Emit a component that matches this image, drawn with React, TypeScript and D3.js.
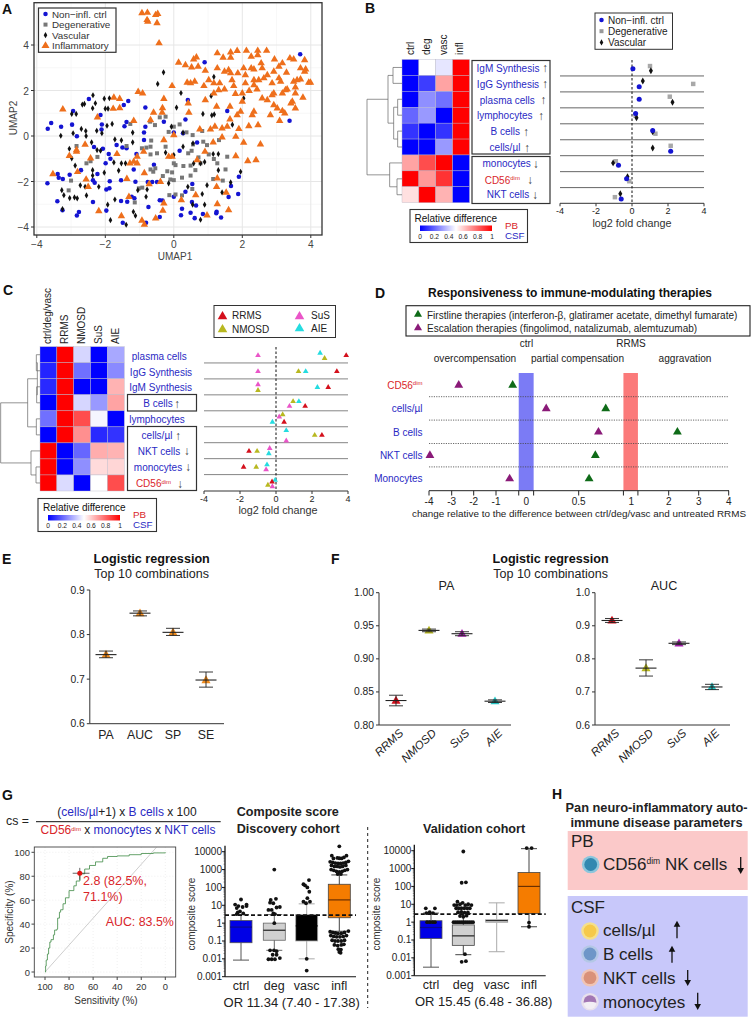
import React from 'react';
import * as d3 from 'd3';

const SANS = '"Liberation Sans", Arial, sans-serif';
const BLUE = '#2a2ac4';
const RED = '#d9252a';

// ---------- Panel A: UMAP ----------
const umapCtrl = [[3.69,3.59],[.9,3.24],[3.38,.67],[.41,1.58],[1.56,1.1],[.34,.73],[.27,.12],[-.29,.63],[-.83,1.25],[-1.33,1.54],[-1.46,1.36],[-2.48,1.63],[-2.94,1.1],[-3.58,.57],[-3.68,.32],[-3.29,.41],[-2.97,.5],[-2.83,-.01],[-2.14,.92],[-2.1,.51],[-2.11,.29],[-1.38,.62],[-1.44,.43],[-.83,.41],[-.87,.15],[-.87,-.18],[0,.15],[.68,-.29],[.17,-.65],[-1.67,-.4],[-1.5,-.51],[-1.38,-.54],[-2.33,-.48],[-2.07,-.56],[-1.9,-.79],[-1.09,-.79],[-1.99,-1.2],[-1.85,-1],[-1.17,-1.47],[-.58,-1.26],[-3.04,-1.7],[-3.39,-1.67],[-3.36,-1.83],[-3.24,-1.89],[-3.69,-2.08],[-2.71,-1.5],[-2.36,-1.94],[-2.31,-2.05],[-2.23,-1.67],[-1.97,-2.35],[-1.88,-2.3],[-1.87,-1.99],[-1.54,-1.95],[-1.12,-2.01],[-.76,-2.02],[-.63,-2.02],[-.49,-2.02],[.54,-2.11],[1.67,-2.2],[1.9,-1.79],[1.88,-2.55],[1.6,-2.68],[.34,-2.45],[0,-2.67],[-.41,-2.82],[-.33,-2.84],[-1.23,-2.67],[-1.15,-2.74],[-1.54,-2.86],[-1.36,-2.89],[-2.36,-2.9],[-3.4,-2.87],[-3.25,-3.26],[-2.77,-3.34],[-2.83,-3.49],[-1.97,-3.28],[-.74,-3.12],[.24,-3.2],[.21,-3.48],[.49,-3.37],[.61,-3.61],[.65,-3.05],[.85,-3.43],[1.25,-3.33],[1.24,-3.4],[1.38,-3.58],[-.41,-3.56],[-.81,-3.81],[-1.49,-3.81],[.53,-2.9]];
const umapDeg = [[-.41,.82],[-.24,.85],[-.15,.18],[0,.41],[.17,.51],[-.69,.63],[-.55,.48],[-1.27,.53],[-1.38,-.44],[-2.84,-.44],[.55,.04],[.37,.16],[.83,.22],[-.66,-.2],[-.93,-.54],[-.8,-.51],[-.68,-.47],[-.24,-.47],[.86,-.25],[.97,-.4],[1.32,-.18],[.56,-.37],[.52,-.65],[.42,-.76],[.72,-.94],[1.02,-.81],[1.17,-1.01],[1.56,-.91],[-.49,-.76],[-.68,-.81],[0,-1.2],[.05,-1.28],[.28,-1.32],[.49,-1.3],[.78,-1.2],[1.27,-1.2],[1.51,-1.47],[1.43,-1.96],[1.15,-1.89],[.63,-1.5],[.49,-1.74],[.24,-1.83],[-.19,-1.55],[-.05,-1.6],[-.32,-1.76],[-.1,-1.91],[0,-1.94],[-.6,-1.57],[-.68,-1.47],[-.54,-1.42],[-1.02,-2.3],[-.92,-2.27],[-3,-1.96],[-3.07,-2.39],[-2.23,-.92],[-2.55,-1.2],[-2.43,-1.11],[.24,-2.61],[.05,-2.57],[-.13,-2.6],[.54,-2.33],[-1.14,-2.92]];
const umapVasc = [[-.3,2.8],[-.47,2.29],[1.17,2.6],[1.09,1.76],[.21,1.89],[2.04,1.66],[-2.36,1.79],[-2.67,1.38],[-2.61,1.41],[-2.29,1.44],[-2.37,1.22],[-2.03,1.64],[-1.88,1.66],[-2,1.2],[-1.92,1.2],[-2.98,.97],[-2.85,.97],[.08,1.25],[.85,.97],[1.11,.91],[1.18,.95],[1.71,.5],[-2.7,.31],[-2.57,.22],[-2.94,.12],[-3.3,.01],[-2.56,0],[-2.25,.23],[-1.95,.45],[-1.8,.53],[-2.1,.12],[-1.2,.15],[-1.72,-.15],[-1.53,-.19],[-1.2,-.28],[-3.05,-.56],[-2.4,-.28],[-2.14,-.65],[-2.24,-.62],[-2.88,-1.3],[-2.98,-.98],[-1.75,-1.16],[-1.53,-1.2],[-1.41,-1.2],[-2.03,-1.61],[-1.61,-1.52],[-2.37,-1.74],[-2.37,-1.5],[-2.73,-2.17],[-2.59,-2.23],[-3.27,-2.38],[-3.21,-2.6],[-3.04,-2.73],[-2.9,-2.7],[-2.82,-2.74],[-2.55,-2.61],[-2.19,-2.23],[-1.93,-3.02],[-1.72,-2.79],[-1.18,-3.33],[-1.12,-3.5],[-1.85,-3.7],[-1.39,-3.9],[-3.25,-3.21],[-.81,-2.67],[-1.05,-2.38],[-.78,-2.35],[-.07,.41],[.27,.15],[.56,-.32],[.27,-.47],[.58,-1.2],[.78,-1.2],[.9,-1.14],[1.15,-.79],[1.3,-.79],[1.3,-1.5],[1.95,-1.57],[1.66,-2.04],[1.41,-2.48],[.97,-2.16],[.83,-2.55],[.9,-3.02],[.55,-3.02],[.78,-3.68],[0,-.84],[-.15,-2.08],[.41,-2.23],[-.24,-.73]];
const umapInfl = [[-.93,5.4],[-.77,5.42],[-.78,5.1],[-.76,5.03],[-.53,5.32],[-.47,5.37],[-.49,4.96],[-.43,4.08],[1.27,3.64],[1.66,3.68],[1.44,3.45],[1.66,3.45],[1.85,3.74],[2.12,3.75],[2.45,3.75],[2.71,3.75],[2.26,3.49],[2.45,3.56],[2.94,3.37],[2.55,3.2],[3.17,3.2],[3.39,3.42],[3.5,3.37],[3.82,3.34],[.14,3.23],[.34,3.12],[.52,3.02],[.58,3.37],[.66,3.46],[.71,3.05],[.92,2.87],[1.27,2.98],[1.48,2.83],[1.6,2.9],[1.66,2.76],[1.87,2.76],[2.04,2.98],[2.26,2.98],[2.34,2.93],[2.58,2.98],[2.73,2.68],[2.92,2.83],[3.07,3.05],[3.29,2.79],[3.07,2.54],[3.7,2.98],[3.85,2.93],[3.82,2.83],[3.5,2.39],[3.6,2.46],[3.7,2.49],[3.94,2.35],[3.99,2.35],[.39,2.35],[.49,2.32],[.61,2.39],[-.05,2.2],[-1.04,1.94],[-.91,1.88],[-1.75,1.69],[-1.58,1.63],[-.29,1.63],[-1.77,1.2],[-1.58,1.23],[-3.24,1.17],[-1.17,.67],[-2.23,.82],[-.33,1.23],[-.59,1.03],[-.34,1.03],[-.68,.7],[.44,1.03],[.42,1.44],[.92,1.58],[1.17,1.88],[1.31,2.02],[1.48,2.05],[1.75,2.2],[2.09,2.32],[1.7,2.46],[1.17,2.32],[.88,2.2],[1.34,2.32],[1.8,1.85],[2,1.88],[2,1.51],[1.25,1.29],[1.64,1.29],[1.95,1.07],[1.85,.92],[1.64,.73],[2.34,1.07],[2.29,.92],[2.82,.92],[3.09,.67],[3.24,1],[3.17,1.1],[2.92,1.36],[3.02,1.22],[2.58,1.66],[2.73,1.58],[2.87,1.8],[3.17,1.88],[3.31,2.05],[3.55,2.14],[3.46,1.51],[3.55,1.22],[3.77,1.69],[2.19,.44],[2.46,.48],[1.9,.31],[1.56,.41],[1.41,.34],[1.2,.41],[1.07,.29],[.76,.29],[1.81,-.03],[1.41,-.06],[2.04,-.29],[2.53,-.37],[1.15,-.28],[2.4,-1.06],[2.16,-1.1],[1.81,-.88],[-.29,-.18],[-.15,-.91],[-.05,-.91],[-.88,-.69],[-1.07,-.91],[-1.17,-1.13],[-1.07,-1.2],[-1.28,-1.2],[-1.66,-.79],[-2.43,-.98],[-2.59,-.38],[-3.05,-.87],[-2.84,-.69],[-2.84,-.62],[-2.81,-1.58],[-3.53,-1.67],[-2.56,-1.91],[-2.5,-2.23],[-1.37,-1.88],[-.86,-1.63],[-.39,-2.01],[0,.04],[.68,-1.06],[.91,-.69],[1.27,-1.86],[1.25,-2.23],[1.53,-2.49],[1.27,-2.99],[1.6,-3.26],[.97,-3.49],[.64,-2.6],[.22,-2.82],[-.29,-2.96],[-.32,-3.28],[-.53,-3.62],[-.93,-3.72],[-.86,-3.9],[-1.53,-3.52],[-2.19,-3.3],[-1.31,-2.67],[-.72,-2.11],[2.09,2.68],[2.34,2.46],[2.2,1.99],[2.43,2.05],[2.48,2.46],[2.63,2.54],[2.87,2.32],[3.12,2.39],[3.26,2.02],[3.55,1.88],[2.92,1.88],[3.42,1.44],[2.34,2.24],[1.02,2.46]];
const umapLegend = ['Non−infl. ctrl', 'Degenerative', 'Vascular', 'Inflammatory'];

// ---------- Panel B ----------
const bCols = ['ctrl', 'deg', 'vasc', 'infl'];
const bRows = ['IgM Synthesis', 'IgG Synthesis', 'plasma cells', 'lymphocytes', 'B cells', 'cells/µl', 'monocytes', 'CD56', 'NKT cells'];
const bHeat = [[0,.5,.45,1],[0,.12,.68,1],[0,.28,.22,1],[.2,.3,0,1],[.1,0,.1,1],[0,0,.3,1],[.68,.85,1,0],[1,.7,.9,0],[.56,1,.65,0]];
const bFcCtrl = [.05,.4,.4,.2,1.15,2.15,-.75,-.3,-.6];
const bFcDeg = [1,3.4,2.1,.2,1.3,2.15,-.9,-.15,-.95];
const bFcVasc = [1.05,.6,2.25,.25,1.15,1.15,-1.05,-.25,-.65];
const bDodgeCtrl = [.55,.68,.46,.36,.42,.72,.6,.45,.72];
const bDodgeDeg = [.38,.5,.3,.5,.62,.38,.35,.6,.6];
const bDodgeVasc = [.68,.32,.65,.62,.5,.52,.45,.32,.38];
const bTree: any = [105, [42, [27, 0, 1], [25, [13, 2, 3], [13, 4, 5]]], [37, 6, [15, 7, 8]]];

// ---------- Panel C ----------
const cCols = ['ctrl/deg/vasc', 'RRMS', 'NMOSD', 'SuS', 'AIE'];
const cRows = ['plasma cells', 'IgG Synthesis', 'IgM Synthesis', 'B cells', 'lymphocytes', 'cells/µl', 'NKT cells', 'monocytes', 'CD56'];
const cHeat = [[.02,1,.42,0,.33],[.07,1,.22,0,.27],[.08,1,0,0,.65],[0,1,.42,.3,.68],[.22,1,.85,.48,0],[0,1,.72,.08,.1],[1,0,.2,.66,.65],[1,0,.28,.57,.58],[1,.43,0,.5,.85]];
const cFcRRMS = [3.9,3.38,2.9,1.62,.45,2.55,-1.5,-1.8,-.22];
const cFcNMOSD = [2.7,1.25,-1,.95,.37,2.15,-1.05,-1.1,-.45];
const cFcSuS = [-1,-1,-1,.75,.18,.57,-.35,-.55,-.2];
const cFcAIE = [2.45,1.65,2.3,1.27,-.2,.57,-.4,-.5,-.05];
const cDodgeRRMS = [.5,.5,.5,.68,.68,.5,.5,.5,.42];
const cDodgeNMOSD = [.68,.5,.68,.38,.2,.5,.5,.5,.62];
const cDodgeSuS = [.5,.5,.32,.68,.35,.85,.32,.65,.72];
const cDodgeAIE = [.35,.5,.5,.38,.68,.2,.65,.35,.32];
const cTree: any = [118, [37, [8, [11, 0, 1], [10, 2, 3]], [11, 4, 5]], [27, 6, [12, 7, 8]]];

// ---------- Panel D ----------
const dRows = ['CD56', 'cells/µl', 'B cells', 'NKT cells', 'Monocytes'];
const dFirst = [-.45,.76,2.29,.66,.6];
const dEsc = [-2.68,.19,.69,-3.96,-.55];
const dTicks = [-4,-3,-2,-1,0,.5,1,2,3,4];
const dEdges = [-.25,.07,.93,1.19];

// ---------- Panels E, F ----------
const eCats = ['PA','AUC','SP','SE'];
const eMean = [.755,.848,.805,.698];
const eLow = [.748,.842,.798,.682];
const eHigh = [.763,.853,.814,.716];
const fCats = ['RRMS','NMOSD','SuS','AIE'];
const fPaMean = [.837,.943,.938,.836];
const fPaLow = [.829,.941,.935,.834];
const fPaHigh = [.845,.945,.941,.838];
const fAucMean = [.916,.772,.847,.715];
const fAucLow = [.91,.748,.843,.707];
const fAucHigh = [.922,.797,.851,.723];
const fColors = ['#d4101c','#b8b820','#b022b8','#25c4c4'];

// ---------- Panel G ----------
const rocSens = [100,99.5,99,98,97,96,95,93,92,90,89.5,88,87,85,83,80,76,74,71,67,63,58,52,48,40,30,20,10,0];
const rocSpec = [0,5,10,15,20,25,27,31,35,36,45,50,52,57,62,68,72,76,82,86,89,92,95,96.5,97,98,99,99.5,100];
const boxCats = ['ctrl','deg','vasc','infl'];
const discStats = [
  {lo:.0085,q1:.08,med:.6,q3:1.4,hi:3},
  {lo:.03,q1:.11,med:.4,q3:1,hi:3},
  {lo:.01,q1:.1,med:.7,q3:3,hi:12},
  {lo:.35,q1:2,med:20,q3:150,hi:500},
];
const discOut: number[][][] = [
  [[0,21],[-.18,11],[-.08,9],[.17,11],[-.13,7],[.05,8],[.17,9],[-.03,4.5],[-.1,4],[.07,3.5],[-.13,3.2]],
  [[0,1000],[-.11,20],[.05,23],[-.13,14],[-.03,13],[-.08,5.5],[-.18,5.5],[.07,7.5],[.17,8],[-.03,3.5],[.02,3.2],[0,1],[-.13,.03],[-.01,.03],[.07,.027],[-.05,.017],[.07,.017],[-.18,.0095],[-.08,.0095],[.02,.0095],[.17,.011]],
  [[.07,257],[-.1,150],[.02,100],[-.05,130],[.08,57],[-.1,16],[.1,16],[.02,25],[-.02,13],[0,.01],[0,.0022]],
  [[0,20000],[-.23,6000],[.22,6000],[-.06,4500],[.07,4200],[-.18,4200],[.14,4800],[0,4300],
   [-.28,2700],[-.2,2500],[-.12,2300],[-.04,2200],[.04,2200],[.12,2300],[.2,2500],[.28,2900],[-.24,1700],[-.15,1500],[-.06,1500],[.02,1400],[.1,1500],[.2,1700],
   [-.25,1000],[-.17,900],[-.09,800],[0,750],[.09,800],[.17,900],[.25,1000],[-.05,560],[.05,560],
   [-.28,.33],[-.2,.3],[-.12,.28],[-.04,.26],[.06,.27],[.16,.3],[.28,.36],[-.26,.2],[-.17,.18],[-.08,.17],[.02,.17],[.12,.18],[.22,.2],[-.22,.11],[-.13,.1],[-.04,.1],[.06,.1],[.16,.11],[-.15,.06],[-.05,.055],[.06,.06],[.14,.065],[-.03,.035],[.05,.033],[0,.024],[.04,.022]],
];
const valStats = [
  {lo:.003,q1:.12,med:.5,q3:1.2,hi:3.2},
  {lo:.015,q1:.05,med:.17,q3:.7,hi:3},
  {lo:.022,q1:.95,med:1.2,q3:1.4,hi:12},
  {lo:.55,q1:3,med:100,q3:600,hi:13000},
];
const valOut: number[][][] = [
  [[-.16,5.9],[.12,5.9],[-.04,3.6],[-.14,3.2],[.06,3.2],[-.12,1],[-.04,1],[.05,1],[.12,1]],
  [[0,9000],[-.05,160],[.08,170],[-.18,14],[-.28,9],[-.2,9],[-.1,10],[-.02,12],[.06,9],[.15,10],[.25,9],[-.22,6],[-.14,6],[-.06,6],[.03,6],[.12,6],[.2,6],[-.16,3.6],[-.06,3.8],[.04,3.4],[.14,3.5],[-.1,2.2],[0,2],[.1,2.3],[-.3,1],[-.24,1],[-.18,1],[-.12,1],[-.06,1],[0,1],[.06,1],[.12,1],[.18,1],[.24,1],[.3,1],[.05,.016],[-.05,.006],[.08,.0065]],
  [],
  [[-.07,14000],[.08,14000],[0,.95],[0,.55]],
];
const ORs = ['OR 11.34 (7.40 - 17.38)', 'OR 15.45 (6.48 - 36.88)'];

// ---------- Panel H ----------
const csfCells = ['cells/µl','B cells','NKT cells','monocytes'];

// ---------- helpers ----------
const heatColor = d3.scaleLinear<string>().domain([0,.5,1]).range(['#0000ff','#ffffff','#ff0000']);
const tri = (s: number) => d3.symbol(d3.symbolTriangle, s)()!;
const sq = (s: number) => d3.symbol(d3.symbolSquare, s)()!;
const dia = (s: number) => d3.symbol(d3.symbolDiamond, s)()!;
const circ = (s: number) => d3.symbol(d3.symbolCircle, s)()!;

function T({x,y,s=10.5,c='#222',a='start',w,f=SANS,r,i,children}: any) {
  return <text x={x} y={y} fontSize={s} fill={c} textAnchor={a} fontWeight={w} fontFamily={f} fontStyle={i?'italic':undefined}
    transform={r!==undefined?`rotate(${r} ${x} ${y})`:undefined}>{children}</text>;
}
function Mark({x,y,d,c,stroke}: any) {
  return <path d={d} transform={`translate(${x},${y})`} fill={c} stroke={stroke}/>;
}
function Tree({node, yOf, xOf}: any): any {
  const lay = (n: any): any => {
    if (typeof n === 'number') return {y: yOf(n + .5), h: 0, paths: [] as string[]};
    const a = lay(n[1]), b = lay(n[2]);
    const h = n[0];
    const p = `M${xOf(a.h)},${a.y}H${xOf(h)}V${b.y}H${xOf(b.h)}`;
    return {y: (a.y+b.y)/2, h, paths: [...a.paths, ...b.paths, p]};
  };
  const r = lay(node);
  return <g fill="none" stroke="#666" strokeWidth={0.7}>{r.paths.map((p: string,i: number)=><path key={i} d={p}/>)}</g>;
}
function Heat({data,x0,x1,y0,y1}: any) {
  const nC = data[0].length, nR = data.length;
  const xs = d3.scaleBand<number>().domain(d3.range(nC)).range([x0,x1]);
  const ys = d3.scaleBand<number>().domain(d3.range(nR)).range([y0,y1]);
  return <g stroke="#b8b8c8" strokeWidth={.4}>{data.map((row: number[],r: number)=>row.map((v,c)=>
    <rect key={r+'-'+c} x={xs(c)} y={ys(r)} width={xs.bandwidth()} height={ys.bandwidth()} fill={heatColor(v)}/>))}</g>;
}
function ColorBar({x,y,w,h,id}: any) {
  const s = d3.scaleLinear().domain([0,1]).range([x,x+w]);
  return <g>
    <rect x={x} y={y} width={w} height={h} fill={`url(#${id})`}/>
    {[0,.2,.4,.6,.8,1].map(t=><T key={t} x={s(t)} y={y+h+7.5} s={6.7} a="middle">{t}</T>)}
  </g>;
}
function FcAxis({xs,y,ticks}: any) {
  return <g>
    <line x1={xs.range()[0]} x2={xs.range()[1]} y1={y} y2={y} stroke="#333" strokeWidth={1}/>
    {ticks.map((t: number)=><g key={t}>
      <line x1={xs(t)} x2={xs(t)} y1={y} y2={y+3} stroke="#333"/>
      <T x={xs(t)} y={y+11} s={9} a="middle">{t}</T>
    </g>)}
  </g>;
}
function ErrPanel({cats,mean,low,high,colors,yDom,yTicks,ax,xEnd,cx,yT,yB,fmt,rot,triSize}: any) {
  const y = d3.scaleLinear().domain(yDom).range([yB,yT]);
  const x = d3.scaleOrdinal<string,number>().domain(cats).range(cx);
  return <g>
    <line x1={ax} x2={ax} y1={yT} y2={yB} stroke="#333"/>
    <line x1={ax} x2={xEnd} y1={yB} y2={yB} stroke="#333"/>
    {yTicks.map((t: number)=><g key={t}>
      <line x1={ax-3} x2={ax} y1={y(t)} y2={y(t)} stroke="#333"/>
      <T x={ax-5} y={y(t)+3.5} s={10.3} a="end">{fmt(t)}</T>
    </g>)}
    {cats.map((c: string,i: number)=>{
      const X = x(c)!;
      return <g key={c}>
        {rot
          ? <T x={X+8} y={yB+9} s={11.5} a="end" i r={-43}>{c}</T>
          : <T x={X} y={yB+15} s={12.3} a="middle">{c}</T>}
        <Mark x={X} y={y(mean[i])+.5} d={tri(triSize)} c={colors[i]}/>
        <g stroke="#222" strokeWidth={.9}>
          <line x1={X} x2={X} y1={y(low[i])} y2={y(high[i])}/>
          <line x1={X-7} x2={X+7} y1={y(low[i])} y2={y(low[i])}/>
          <line x1={X-7} x2={X+7} y1={y(high[i])} y2={y(high[i])}/>
          <line x1={X-10.5} x2={X+10.5} y1={y(mean[i])} y2={y(mean[i])} strokeWidth={1.1}/>
        </g>
      </g>;
    })}
  </g>;
}
function BoxPanel({stats,outliers,cx,ax,xEnd,yTop,yBot,fills,meds,whisk,step}: any) {
  const y = d3.scaleLog().domain([.001,10000]).range([yBot,yTop]);
  const ticks = [.001,.01,.1,1,10,100,1000,10000];
  const minor = d3.range(0,7).flatMap(e=>d3.range(2,10).map(m=>m*Math.pow(10,e-3)));
  const bw = 22;
  return <g>
    {stats.map((s: any,i: number)=>{
      const X = cx[i];
      const wc = whisk[i];
      return <g key={i}>
        <line x1={X} x2={X} y1={y(s.lo)} y2={y(s.hi)} stroke={wc} strokeWidth={1}/>
        <line x1={X-8} x2={X+8} y1={y(s.lo)} y2={y(s.lo)} stroke={wc}/>
        <line x1={X-8} x2={X+8} y1={y(s.hi)} y2={y(s.hi)} stroke={wc}/>
        <rect x={X-bw/2} y={y(s.q3)} width={bw} height={y(s.q1)-y(s.q3)} fill={fills[i]} stroke={wc} strokeWidth={.8}/>
        <line x1={X-bw/2} x2={X+bw/2} y1={y(s.med)} y2={y(s.med)} stroke={meds[i]} strokeWidth={1.2}/>
        {outliers[i].map((o: number[],j: number)=><circle key={j} cx={X+o[0]*step} cy={y(o[1])} r={1.9} fill="#111"/>)}
      </g>;
    })}
    <line x1={ax} x2={ax} y1={yTop-6} y2={yBot} stroke="#111" strokeWidth={1.3}/>
    <line x1={ax} x2={xEnd} y1={yBot} y2={yBot} stroke="#111" strokeWidth={1.1}/>
    {minor.map((t,i)=><line key={i} x1={ax-1.5} x2={ax} y1={y(t)} y2={y(t)} stroke="#333" strokeWidth={.5}/>)}
    {ticks.map(t=><g key={t}>
      <line x1={ax-3} x2={ax} y1={y(t)} y2={y(t)} stroke="#111"/>
      <T x={ax-3} y={y(t)+3.5} s={10} a="end">{t}</T>
    </g>)}
    <line x1={ax} x2={xEnd} y1={y(2.8)} y2={y(2.8)} stroke="#111" strokeWidth={1.6} strokeDasharray="4 2.5"/>
    {boxCats.map((c,i)=><T key={c} x={cx[i]} y={yBot+13.5} s={12.5} a="middle">{c}</T>)}
  </g>;
}
const Dim = ({c=RED,s=6}: any) => <tspan fontSize={s} dy={-3.5} fill={c}>dim</tspan>;

function CellIcon({x,y,outer,inner,half}: any) {
  return <g>
    <circle cx={x} cy={y} r={8.8} fill={outer}/>
    <circle cx={x} cy={y} r={6.4} fill={inner}/>
    {half&&<path d={`M${x-6.4},${y+1}A6.4,6.4 0 0 0 ${x+6.4},${y+1}Q${x},${y-1} ${x-6.4},${y+1}Z`} fill="#f2eef4"/>}
  </g>;
}
function Arrow({x,y0,y1,up}: any) {
  const tip = up ? y0 : y1, base = up ? y1 : y0;
  const d = up ? -1 : 1;
  return <g>
    <line x1={x} x2={x} y1={base} y2={tip-d*3} stroke="#111" strokeWidth={1.3}/>
    <path d={`M${x},${tip}L${x-3.3},${tip-d*6}L${x+3.3},${tip-d*6}Z`} fill="#111"/>
  </g>;
}

export default function App() {
  // A
  const ax = d3.scaleLinear().domain([-4,4]).range([36.8,310.8]);
  const ay = d3.scaleLinear().domain([-4,4]).range([227,45]);
  const aXT = [-4,-2,0,2,4], aMinor = [-3,-1,1,3];
  const aYT = [-4,-2,0,2,4];

  // B
  const bx = d3.scaleLinear().domain([-4,4]).range([560,704]);
  const bY0 = 60, bRow = 15.95;
  const bRowY = (i: number) => bY0 + i*bRow;
  const bLabelX = [508,508,507.3,504.7,505.3,505,506.7,506.3,508];
  const bArrowX = [545,545,543.3,541,526,527,535.7,530,535];
  const bLabelY = [71.7,87.7,103.7,119.4,135,151,167,183.7,198.4];
  const bTreeX = (h: number) => 402 - h/3;
  const bTreeY = (r: number) => 59.5 + r*(202.7-59.5)/9;

  // C
  const cx = d3.scaleLinear().domain([-4,4]).range([204,348]);
  const cY0 = 347.5, cRow = 15.95;
  const cRowY = (i: number) => cY0 + i*cRow;
  const cLabelX = [159.3,161,160.7,158,157,157,159,158,157.5];
  const cArrowX = [0,0,0,177,0,178,186.7,188,180];
  const cLabelZ = [244,291,338,386,433,481,528,576,625];
  const cTreeX = (h: number) => 40 - h/3;
  const cTreeY = (r: number) => 346.7 + r*(491-346.7)/9;

  // D
  const dx = d3.scaleLinear().domain(dTicks).range([429,451.7,473.7,496,526.3,578.7,630.7,668.7,698.7,728.7]);
  const dY = d3.scaleBand<number>().domain(d3.range(5)).range([373.5,490.5]);

  // G ROC
  const rx = d3.scaleLinear().domain([100,0]).range([45,165.3]);
  const ry = d3.scaleLinear().domain([0,100]).range([972,852.3]);
  const rocPath = d3.line<number>().x(i=>rx(rocSens[i])).y(i=>ry(rocSpec[i])).curve(d3.curveStepAfter)(d3.range(rocSens.length))!;

  const Symbol2 = (i: number) => [circ(16), sq(16), dia(11), tri(28)][i];
  const symColors = ['#1414d2','#777777','#111111','#ee6f1c'];

  return (
    <svg width={753} height={1019} style={{position:'absolute',left:0,top:0,background:'#fff'}} fontFamily={SANS}>
      <defs>
        <linearGradient id="hb"><stop offset="0" stopColor="#0000ff"/><stop offset=".5" stopColor="#ffffff"/><stop offset="1" stopColor="#ff0000"/></linearGradient>
      </defs>

      {/* A */}
      <T x={2} y={14} s={14} w="bold" c="#111">A</T>
      <g>
        {aMinor.map(t=><line key={t} x1={ax(t)} x2={ax(t)} y1={3} y2={235} stroke="#f1f1f1" strokeWidth={.6}/>)}
        {aMinor.map(t=><line key={'h'+t} y1={ay(t)} y2={ay(t)} x1={34} x2={322} stroke="#f1f1f1" strokeWidth={.6}/>)}
        {aXT.map(t=><line key={t} x1={ax(t)} x2={ax(t)} y1={3} y2={235} stroke="#e6e6e6" strokeWidth={1}/>)}
        {aYT.map(t=><line key={'h'+t} y1={ay(t)} y2={ay(t)} x1={34} x2={322} stroke="#e6e6e6" strokeWidth={1}/>)}
        {umapCtrl.map((p,i)=><Mark key={i} x={ax(p[0])} y={ay(p[1])} d={circ(16)} c={symColors[0]}/>)}
        {umapDeg.map((p,i)=><Mark key={i} x={ax(p[0])} y={ay(p[1])} d={sq(16)} c={symColors[1]}/>)}
        {umapVasc.map((p,i)=><Mark key={i} x={ax(p[0])} y={ay(p[1])} d={dia(11)} c={symColors[2]}/>)}
        {umapInfl.map((p,i)=><Mark key={i} x={ax(p[0])} y={ay(p[1])} d={tri(24)} c={symColors[3]}/>)}
        <rect x={34} y={2.7} width={288} height={232.3} fill="none" stroke="#333" strokeWidth={1.3}/>
        {aXT.map(t=><g key={t}>
          <line x1={ax(t)} x2={ax(t)} y1={235} y2={238} stroke="#333"/>
          <T x={ax(t)} y={248} s={10.2} a="middle" c="#444">{t<0?'−'+(-t):t}</T>
        </g>)}
        {aYT.map(t=><g key={t}>
          <line x1={31} x2={34} y1={ay(t)} y2={ay(t)} stroke="#333"/>
          <T x={29} y={ay(t)+4} s={10.2} a="end" c="#444">{t<0?'−'+(-t):t}</T>
        </g>)}
        <T x={175} y={260} s={10} a="middle" c="#444">UMAP1</T>
        <T x={17} y={118} s={10} a="middle" c="#444" r={-90}>UMAP2</T>
        <rect x={38.5} y={8} width={77.5} height={44.3} fill="#fff" stroke="#333" strokeWidth={1.2}/>
        {umapLegend.map((l,i)=><g key={l}>
          <Mark x={45.5} y={14+i*10.6} d={Symbol2(i)} c={symColors[i]}/>
          <T x={52} y={17.5+i*10.6} s={9.8} c="#333">{l}</T>
        </g>)}
      </g>

      {/* B */}
      <T x={365} y={13} s={14} w="bold" c="#111">B</T>
      {bCols.map((c,i)=><T key={c} x={414+i*16.4} y={55} s={10} r={-90}>{c}</T>)}
      <Heat data={bHeat} x0={402} x1={469.5} y0={59.5} y1={202.7}/>
      <Tree node={bTree} yOf={bTreeY} xOf={bTreeX}/>
      <rect x={472} y={60.5} width={78} height={93.5} fill="none" stroke="#333" strokeWidth={1.2}/>
      <rect x={472} y={156.5} width={78} height={47} fill="none" stroke="#333" strokeWidth={1.2}/>
      {bRows.map((r,i)=><g key={r}>
        <text x={bLabelX[i]-(r==='CD56'?4:0)} y={bLabelY[i]} fontSize={10} textAnchor="middle" fill={r==='CD56'?RED:BLUE}>{r}{r==='CD56'&&<Dim/>}</text>
        <T x={bArrowX[i]} y={bLabelY[i]+.5} s={12} a="middle" c="#444">{i<6?'↑':'↓'}</T>
      </g>)}
      {d3.range(1,9).map(i=><line key={i} x1={560} x2={704} y1={bRowY(i)} y2={bRowY(i)} stroke="#555" strokeWidth={.9}/>)}
      <line x1={bx(0)} x2={bx(0)} y1={60} y2={203} stroke="#111" strokeDasharray="2.5 2" strokeWidth={1}/>
      {bFcDeg.map((v,i)=><Mark key={i} x={bx(v)} y={bRowY(i)+bDodgeDeg[i]*bRow} d={sq(20)} c="#a8a8a8"/>)}
      {bFcVasc.map((v,i)=><Mark key={i} x={bx(v)} y={bRowY(i)+bDodgeVasc[i]*bRow} d={dia(14)} c="#111"/>)}
      {bFcCtrl.map((v,i)=><Mark key={i} x={bx(v)} y={bRowY(i)+bDodgeCtrl[i]*bRow} d={circ(20)} c="#1414d2"/>)}
      <FcAxis xs={bx} y={203.3} ticks={[-4,-2,0,2,4]}/>
      <T x={632} y={226.5} s={10.8} a="middle" c="#333">log2 fold change</T>
      <rect x={595} y={13} width={77.5} height={36.3} fill="#fff" stroke="#333" strokeWidth={1}/>
      {umapLegend.slice(0,3).map((l,i)=><g key={l}>
        <Mark x={601.5} y={20+i*11.2} d={Symbol2(i)} c={i===1?'#999':symColors[i]}/>
        <T x={608} y={23.5+i*11.2} s={10} c="#222">{l}</T>
      </g>)}
      <rect x={410} y={209.5} width={117.5} height={33} fill="#fff" stroke="#333" strokeWidth={1.1}/>
      <T x={414.5} y={222} s={10} c="#111">Relative difference</T>
      <ColorBar x={420} y={225.5} w={72} h={5.5} id="hb"/>
      <T x={505} y={229} s={9.8} c={RED}>PB</T>
      <T x={505} y={239} s={9.8} c={BLUE}>CSF</T>

      {/* C */}
      <T x={3} y={295} s={14} w="bold" c="#111">C</T>
      {cCols.map((c,i)=><T key={c} x={50.7+i*17} y={344} s={10} r={-90}>{c}</T>)}
      <Heat data={cHeat} x0={40} x1={124.3} y0={346.7} y1={491}/>
      <Tree node={cTree} yOf={cTreeY} xOf={cTreeX}/>
      {cRows.map((r,i)=>{
        const arrow = r==='B cells'||r==='cells/µl'?'↑':(i>=6?'↓':null);
        const Y = 275+cLabelZ[i]/3+3.7;
        return <g key={r}>
          <text x={cLabelX[i]-(r==='CD56'?4:0)} y={Y} fontSize={10} textAnchor="middle" fill={r==='CD56'?RED:BLUE}>{r}{r==='CD56'&&<Dim/>}</text>
          {arrow&&<T x={cArrowX[i]} y={Y+.5} s={12} a="middle" c="#444">{arrow}</T>}
        </g>;
      })}
      <rect x={127.5} y={394.5} width={69} height={16.5} fill="none" stroke="#333" strokeWidth={1.2}/>
      <rect x={127.5} y={426.5} width={69} height={64} fill="none" stroke="#333" strokeWidth={1.2}/>
      {d3.range(1,9).map(i=><line key={i} x1={204} x2={348} y1={cRowY(i)-.5} y2={cRowY(i)-.5} stroke="#777" strokeWidth={.9}/>)}
      <line x1={cx(0)} x2={cx(0)} y1={347} y2={491} stroke="#111" strokeDasharray="2.5 2" strokeWidth={1}/>
      {([[cFcSuS,cDodgeSuS,'#ea55c8'],[cFcNMOSD,cDodgeNMOSD,'#b8b820'],[cFcAIE,cDodgeAIE,'#25dce0'],[cFcRRMS,cDodgeRRMS,'#d4101c']] as any[]).map((s,k)=>
        s[0].map((v: number,i: number)=><Mark key={k+'-'+i} x={cx(v)} y={cRowY(i)+s[1][i]*cRow} d={tri(14)} c={s[2]}/>))}
      <FcAxis xs={cx} y={491} ticks={[-4,-2,0,2,4]}/>
      <T x={278} y={514} s={10.8} a="middle" c="#333">log2 fold change</T>
      <rect x={214} y={305.5} width={121.5} height={32} fill="#fff" stroke="#333" strokeWidth={1}/>
      <Mark x={222.5} y={316.5} d={tri(40)} c="#d4101c"/>
      <Mark x={222.5} y={329.5} d={tri(40)} c="#b8b820"/>
      <Mark x={299.5} y={316.5} d={tri(40)} c="#ea55c8"/>
      <Mark x={299.5} y={328.5} d={tri(40)} c="#25dce0"/>
      <T x={232} y={319} s={10}>RRMS</T>
      <T x={232} y={333} s={10}>NMOSD</T>
      <T x={311} y={319} s={10}>SuS</T>
      <T x={311} y={332} s={10}>AIE</T>
      <rect x={38} y={498.5} width={118.5} height={33} fill="#fff" stroke="#333" strokeWidth={1.1}/>
      <T x={43} y={511} s={10} c="#111">Relative difference</T>
      <ColorBar x={48} y={515} w={72} h={5.5} id="hb"/>
      <T x={133} y={518} s={9.8} c={RED}>PB</T>
      <T x={133} y={528} s={9.8} c={BLUE}>CSF</T>

      {/* D */}
      <T x={375} y={298} s={14} w="bold" c="#111">D</T>
      <T x={570} y={297} s={12} w="bold" a="middle" c="#111">Responsiveness to immune-modulating therapies</T>
      <rect x={406} y={305.7} width={344} height={30.3} fill="#fff" stroke="#222" strokeWidth={1.1}/>
      <Mark x={418} y={314.5} d={tri(28)} c="#0f6b18"/>
      <Mark x={418} y={328} d={tri(28)} c="#8a1a78"/>
      <T x={427} y={318.5} s={10} c="#222">Firstline therapies (interferon-β, glatiramer acetate, dimethyl fumarate)</T>
      <T x={427} y={331.5} s={10} c="#222">Escalation therapies (fingolimod, natalizumab, alemtuzumab)</T>
      <T x={526.5} y={347} s={10} a="middle">ctrl</T>
      <T x={631} y={347} s={10} a="middle">RRMS</T>
      <T x={475} y={362} s={10.1} a="middle">overcompensation</T>
      <T x={577.5} y={362} s={10.1} a="middle">partial compensation</T>
      <T x={685} y={362} s={10.1} a="middle">aggravation</T>
      <rect x={dx(dEdges[0])} y={373} width={dx(dEdges[1])-dx(dEdges[0])} height={117.7} fill="#7b7bf5"/>
      <rect x={dx(dEdges[2])} y={373} width={dx(dEdges[3])-dx(dEdges[2])} height={117.7} fill="#fb7a7a"/>
      {[1,2,3,4].map(i=><line key={i} x1={429} x2={729} y1={373.5+i*23.4-.2} y2={373.5+i*23.4-.2} stroke="#444" strokeWidth={.8} strokeDasharray="1.2 1.2"/>)}
      {dRows.map((r,i)=>{
        const Y = dY(i)!+dY.bandwidth()/2;
        return <g key={r}>
          <text x={422.5} y={Y+3.5} textAnchor="end" fontSize={10} fill={i===0?RED:BLUE}>{r}{i===0&&<Dim/>}</text>
          <Mark x={dx(dFirst[i])} y={Y} d={tri(34)} c="#0f6b18"/>
          <Mark x={dx(dEsc[i])} y={Y} d={tri(34)} c="#8a1a78"/>
        </g>;
      })}
      <line x1={429} x2={729} y1={490.7} y2={490.7} stroke="#222"/>
      {[-4,-3,-2,-1,.5,2,3,4,...dEdges].map(t=><line key={t} x1={dx(t)} x2={dx(t)} y1={490.7} y2={495.5} stroke="#222"/>)}
      {dTicks.map(t=><T key={t} x={t===1?dx(1)+.5:dx(t)} y={505} s={10} a="middle">{t}</T>)}
      <T x={579} y={517} s={9.9} a="middle">change relative to the difference between ctrl/deg/vasc and untreated RRMS</T>

      {/* E */}
      <T x={2} y={564} s={14} w="bold" c="#111">E</T>
      <T x={151.7} y={563.3} s={12.6} w="bold" a="middle" c="#111">Logistic regression</T>
      <T x={151.7} y={577.7} s={12.5} a="middle">Top 10 combinations</T>
      <ErrPanel cats={eCats} mean={eMean} low={eLow} high={eHigh} colors={['#f08c1e','#f08c1e','#f08c1e','#f08c1e']}
        yDom={[.6,.9]} yTicks={[.6,.7,.8,.9]} ax={89.8} xEnd={224} cx={[106,140,173,206]} yT={590} yB={723.7}
        fmt={(t: number)=>t.toFixed(1)} triSize={36}/>

      {/* F */}
      <T x={331} y={564} s={14} w="bold" c="#111">F</T>
      <T x={550.6} y={563.3} s={12.6} w="bold" a="middle" c="#111">Logistic regression</T>
      <T x={550.6} y={577.7} s={12.5} a="middle">Top 10 combinations</T>
      <T x={446.5} y={590} s={12.6} a="middle">PA</T>
      <T x={664} y={590} s={12.6} a="middle">AUC</T>
      <ErrPanel cats={fCats} mean={fPaMean} low={fPaLow} high={fPaHigh} colors={fColors}
        yDom={[.8,1]} yTicks={[.8,.85,.9,.95,1]} ax={379} xEnd={511} cx={[396,429,462,495]} yT={592.7} yB={725}
        fmt={(t: number)=>t.toFixed(2)} rot triSize={36}/>
      <ErrPanel cats={fCats} mean={fAucMean} low={fAucLow} high={fAucHigh} colors={fColors}
        yDom={[.6,1]} yTicks={[.6,.7,.8,.9,1]} ax={595} xEnd={730} cx={[612,646,679,712]} yT={592.7} yB={725}
        fmt={(t: number)=>t.toFixed(1)} rot triSize={36}/>

      {/* G */}
      <T x={2} y={800} s={14} w="bold" c="#111">G</T>
      <T x={6} y={825} s={12.3}>cs =</T>
      <text x={127} y={816} fontSize={12} textAnchor="middle" fill="#222">(<tspan fill={BLUE}>cells/µl</tspan>+1) x <tspan fill={BLUE}>B cells</tspan> x 100</text>
      <line x1={36} x2={220.7} y1={821.7} y2={821.7} stroke="#111" strokeWidth={1}/>
      <text x={128} y={834} fontSize={12} textAnchor="middle" fill="#222"><tspan fill={RED}>CD56</tspan><Dim/><tspan dy={3.5}> x </tspan><tspan fill={BLUE}>monocytes</tspan> x <tspan fill={BLUE}>NKT cells</tspan></text>
      {rx.ticks(5).map(t=><line key={t} x1={rx(t)} x2={rx(t)} y1={847} y2={977} stroke="#e6e6e6" strokeWidth={.6} strokeDasharray="1 2"/>)}
      {ry.ticks(5).map(t=><line key={t} y1={ry(t)} y2={ry(t)} x1={34.3} x2={175.7} stroke="#e6e6e6" strokeWidth={.6} strokeDasharray="1 2"/>)}
      <line x1={rx(100)} y1={ry(0)} x2={rx(7.5)} y2={ry(104)} stroke="#c8c8c8" strokeWidth={.9}/>
      <path d={rocPath} fill="none" stroke="#3f8a45" strokeWidth={.8}/>
      <rect x={34.3} y={847} width={141.4} height={130} fill="none" stroke="#444" strokeWidth={.9}/>
      <g stroke="#222" strokeWidth={.7}>
        <line x1={rx(77)} x2={rx(63)} y1={ry(82.5)} y2={ry(82.5)}/>
        <line x1={rx(71.1)} x2={rx(71.1)} y1={ry(87)} y2={ry(77)}/>
      </g>
      <circle cx={rx(71.1)} cy={ry(82.5)} r={2.5} fill="#e01414"/>
      <T x={83} y={885} s={12.5} c={RED}>2.8 (82.5%,</T>
      <T x={83} y={901} s={12.5} c={RED}>71.1%)</T>
      <T x={105.7} y={926} s={12.4} c={RED}>AUC: 83.5%</T>
      {rx.ticks(5).map(t=><g key={t}>
        <line x1={rx(t)} x2={rx(t)} y1={977} y2={980} stroke="#444"/>
        <T x={rx(t)} y={990} s={9.4} a="middle" c="#333">{t}</T>
      </g>)}
      {ry.ticks(5).map(t=><g key={t}>
        <line x1={31.5} x2={34.3} y1={ry(t)} y2={ry(t)} stroke="#444"/>
        <T x={30} y={ry(t)+3.5} s={9.4} a="end" c="#333">{t}</T>
      </g>)}
      <T x={106} y={1004} s={10} a="middle" c="#333">Sensitivity (%)</T>
      <T x={13} y={912} s={10} a="middle" c="#333" r={-90}>Specificity (%)</T>

      <T x={236.7} y={815.7} s={12.6} w="bold" c="#222">Composite score</T>
      <T x={236.7} y={833.3} s={12.6} w="bold" c="#222">Discovery cohort</T>
      <T x={423} y={833.3} s={12.6} w="bold" c="#222">Validation cohort</T>
      <BoxPanel stats={discStats} outliers={discOut} cx={[241,274.3,306.7,339.3]} ax={225} xEnd={356} yTop={851.7} yBot={976.7}
        fills={['#0000e6','#d0d0d0','#000','#f57c00']} meds={['#0a0a8c','#222','#000','#6b3000']} whisk={['#555','#666','#aaa','#444']} step={32.6}/>
      <T x={195} y={914} s={10} a="middle" c="#333" r={-90}>composite score</T>
      <BoxPanel stats={valStats} outliers={valOut} cx={[431,463.3,496.7,529]} ax={414.3} xEnd={545.7} yTop={850.7} yBot={975.7}
        fills={['#0000e6','#d0d0d0','#fff','#f57c00']} meds={['#0a0a8c','#222','#111','#6b3000']} whisk={['#555','#444','#aaa','#444']} step={32.6}/>
      <T x={380} y={914} s={10} a="middle" c="#333" r={-90}>composite score</T>
      <line x1={367.7} x2={367.7} y1={827} y2={1008} stroke="#222" strokeWidth={1} strokeDasharray="3 3"/>
      <T x={291.7} y={1006.7} s={13} a="middle">{ORs[0]}</T>
      <T x={415} y={1005.5} s={13}>{ORs[1]}</T>

      {/* H */}
      <T x={552} y={799} s={14} w="bold" c="#111">H</T>
      <T x={656.5} y={811.7} s={12.8} w="bold" a="middle" c="#222">Pan neuro-inflammatory auto-</T>
      <T x={656.5} y={826.7} s={12.8} w="bold" a="middle" c="#222">immune disease parameters</T>
      <rect x={567.7} y={831} width={180} height={59} fill="#fbc9c9"/>
      <rect x={567.7} y={896} width={180} height={120.7} fill="#c8c8fa"/>
      <T x={571} y={847.3} s={17} c="#222">PB</T>
      <T x={571} y={912.7} s={17} c="#222">CSF</T>
      <CellIcon x={590.7} y={864.5} outer="#8cc6dc" inner="#3288b0"/>
      <text x={603} y={870} fontSize={17} fill="#222">CD56<tspan fontSize={8.5} dy={-6}>dim</tspan><tspan dy={6}> NK cells</tspan></text>
      <Arrow x={740.7} y0={857} y1={874}/>
      {csfCells.map((c,i)=>{
        const Y = [931,954,977.7,1001.7][i];
        const icons = [['#f5e08c','#f6c94a'],['#b4c8e6','#6e96c8'],['#f0c4b4','#d9917a'],['#e8e0ec','#a277b4']][i];
        return <g key={c}>
          <CellIcon x={590} y={Y} outer={icons[0]} inner={icons[1]} half={i===3}/>
          <T x={603} y={[936,960,984,1007.7][i]} s={17} c="#222">{c}</T>
        </g>;
      })}
      <Arrow x={677} y0={920.7} y1={938.3} up/>
      <Arrow x={672} y0={945.7} y1={962.7} up/>
      <Arrow x={687.7} y0={970} y1={986}/>
      <Arrow x={697.7} y0={992.7} y1={1010}/>
    </svg>
  );
}
